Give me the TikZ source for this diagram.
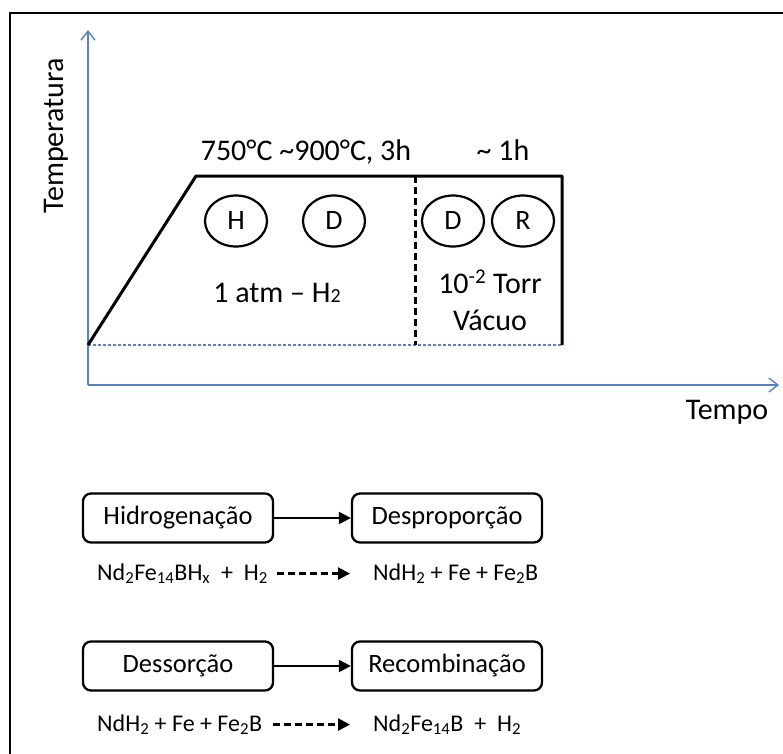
\documentclass[tikz,border=0pt]{standalone}
\usepackage{fontspec}
\setmainfont{Carlito}
\usepackage{tikz}
\usetikzlibrary{calc,arrows.meta,shapes.geometric,positioning}
\definecolor{eixo}{RGB}{84,130,196}

\begin{document}
\begin{tikzpicture}[x=1pt,y=-1pt,
    fase/.style={draw,ellipse,line width=2.2pt,minimum width=62pt,minimum height=51pt,inner sep=0pt,font=\fontsize{28}{30}\selectfont},
    etapa/.style={draw,rounded corners=8pt,line width=2.3pt,minimum width=190pt,minimum height=49pt,inner sep=0pt,font=\fontsize{26.5}{30}\selectfont},
    reacao/.style={anchor=base west,inner sep=0pt,font=\fontsize{24}{28}\selectfont},
    rotulo/.style={inner sep=0pt,font=\fontsize{30}{34}\selectfont},
    seta/.style={line width=2.2pt,-{Triangle[length=12pt,width=12pt]}},
    tracejada/.style={line width=2.4pt,dash pattern=on 7pt off 4pt,-{Triangle[length=12pt,width=12pt]}}]
    \useasboundingbox (0,0) rectangle (783,753);
    \clip (0,0) rectangle (783,753);
    \draw[line width=2.6pt] (10,780) -- (10,13) -- (800,13);

    % eixos
    \coordinate (O) at (88,385);
    \draw[eixo,line width=1.4pt,-{Straight Barb[length=9pt,width=14pt]}] (O) -- (88,30);
    \draw[eixo,line width=1.4pt,-{Straight Barb[length=9pt,width=14pt]}] (O) -- (779,385);
    \node[rotulo,rotate=90] (temp) at (56,136) {Temperatura};
    \node[rotulo] (tempo) at (727,412) {Tempo};

    % ciclo de temperatura
    \draw[eixo,line width=1.3pt,dash pattern=on 3pt off 2pt] (88,345) -- (562,345);
    \draw[line width=3pt,line join=round] (88,345) -- (196,176) -- (562,176) -- (562,345);
    \draw[line width=3pt,dash pattern=on 7pt off 4pt] (415,176) -- (415,345);
    \node[rotulo,anchor=base] (patamar) at (306,160) {750°C \textasciitilde900°C, 3h};
    \node[rotulo,anchor=base] (hora) at (503,160) {\textasciitilde{} 1h};
    \foreach \x/\l/\n in {236/H/hA,334/D/dA,453/D/dB,523/R/rB}{
      \node[fase] (\n) at (\x,221) {\l};
    }
    \node[rotulo,anchor=base] (atm) at (277,302) {1 atm -- H{\fontsize{20}{20}\selectfont 2}};
    \node[rotulo,anchor=base] (torr) at (490,293) {10\textsuperscript{-2} Torr};
    \node[rotulo,anchor=base] (vacuo) at (490,330) {Vácuo};

    % etapas
    \node[etapa] (hid) at (178,518) {Hidrogenação};
    \node[etapa] (desp) at (447,518) {Desproporção};
    \node[etapa] (dess) at (178,666) {Dessorção};
    \node[etapa] (rec) at (447,666) {Recombinação};
    \draw[seta] (hid) -- (desp);
    \draw[seta] (dess) -- (rec);

    % reacoes
    \node[reacao] (rA) at (97,580) {Nd\textsubscript{2}Fe\textsubscript{14}BH\textsubscript{x}\ \ +\ \ H\textsubscript{2}};
    \node[reacao] (pA) at (373,580) {NdH\textsubscript{2} + Fe + Fe\textsubscript{2}B};
    \node[reacao] (rB) at (97,731) {NdH\textsubscript{2} + Fe + Fe\textsubscript{2}B};
    \node[reacao] (pB) at (373,731) {Nd\textsubscript{2}Fe\textsubscript{14}B\ \ +\ \ H\textsubscript{2}};
    \draw[tracejada,shorten <=9pt,shorten >=23pt] (rA) -- (pA);
    \draw[tracejada,shorten <=11pt,shorten >=23pt] (rB) -- (pB);
\end{tikzpicture}
\end{document}
